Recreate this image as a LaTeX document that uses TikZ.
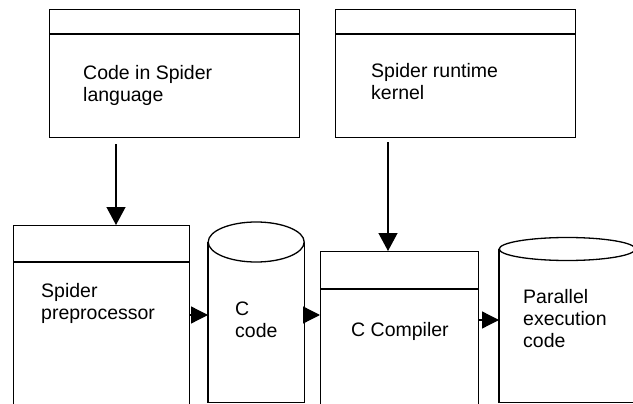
\documentclass[tikz,border=0pt]{standalone}
\usepackage{fontspec}
\setmainfont{Liberation Sans}
\usetikzlibrary{arrows.meta,positioning}

\tikzset{
  box/.style={draw, line width=1.3pt, inner sep=0pt, anchor=north west},
  drum/.style={inner sep=0pt, anchor=north west},
  lbl/.style={font=\fontsize{19.5}{22}\selectfont, align=left, inner sep=0pt, anchor=north west},
  flow/.style={-{Triangle[length=18pt,width=19pt]}, line width=1.3pt},
  hflow/.style={-{Triangle[length=17pt,width=17pt]}, line width=1.3pt},
}

\begin{document}
\begin{tikzpicture}[x=1pt,y=-1pt]
  \useasboundingbox (0,0) rectangle (633,404);
  \clip (0,0) rectangle (633,404);
  % upper boxes
  \node[box, minimum width=250pt, minimum height=128pt] (kode) at (49,9) {};
  \node[box, minimum width=240pt, minimum height=128pt] (kernel) at (335,9) {};
  \draw[line width=1.3pt] ([yshift=-25pt]kode.north west) -- ([yshift=-25pt]kode.north east);
  \draw[line width=1.3pt] ([yshift=-25pt]kernel.north west) -- ([yshift=-25pt]kernel.north east);
  % lower boxes, cut by the page
  \node[box, minimum width=176pt, minimum height=220pt] (prep) at (13,225) {};
  \node[box, minimum width=158pt, minimum height=190pt] (comp) at (320,251) {};
  \draw[line width=1.3pt] ([yshift=-37pt]prep.north west) -- ([yshift=-37pt]prep.north east);
  \draw[line width=1.3pt] ([yshift=-38pt]comp.north west) -- ([yshift=-38pt]comp.north east);
  % drums
  \node[drum, minimum width=96pt, minimum height=160pt] (ccode) at (208,242) {};
  \draw[line width=1.3pt] (ccode.north west) -- (ccode.south west) -- (ccode.south east) -- (ccode.north east);
  \draw[line width=1.3pt, fill=white] (ccode.north) ellipse [x radius=48pt, y radius=20pt];
  \node[drum, minimum width=136pt, minimum height=153pt] (pec) at (499,249) {};
  \draw[line width=1.3pt] (pec.north west) -- (pec.south west) -- (pec.south east) -- (pec.north east);
  \draw[line width=1.3pt, fill=white] (pec.north) ellipse [x radius=68pt, y radius=11.5pt];
  % texts
  \node[lbl] (kodetxt) at (83,65) {Code in Spider\\language};
  \node[lbl] (kerneltxt) at (371,63) {Spider runtime\\kernel};
  \node[lbl] (preptxt) at (41,283) {Spider\\preprocessor};
  \node[lbl] (ccodetxt) at (235,302) {C\\code};
  \node[lbl] (comptxt) at (351,322) {C Compiler};
  \node[lbl] (pectxt) at (523,289) {Parallel\\execution\\code};
  % arrows
  \draw[flow, shorten <=6pt] ([xshift=67pt]kode.south west) -- ([xshift=103pt]prep.north west);
  \draw[flow, shorten <=4pt] ([xshift=53pt]kernel.south west) -- ([xshift=68pt]comp.north west);
  \draw[hflow] ([yshift=-90pt]prep.north east) -- ([yshift=-73pt]ccode.north west);
  \draw[hflow] ([yshift=-73pt]ccode.north east) -- ([yshift=-64pt]comp.north west);
  \draw[hflow] ([yshift=-69pt]comp.north east) -- ([yshift=-71pt]pec.north west);
\end{tikzpicture}
\end{document}
